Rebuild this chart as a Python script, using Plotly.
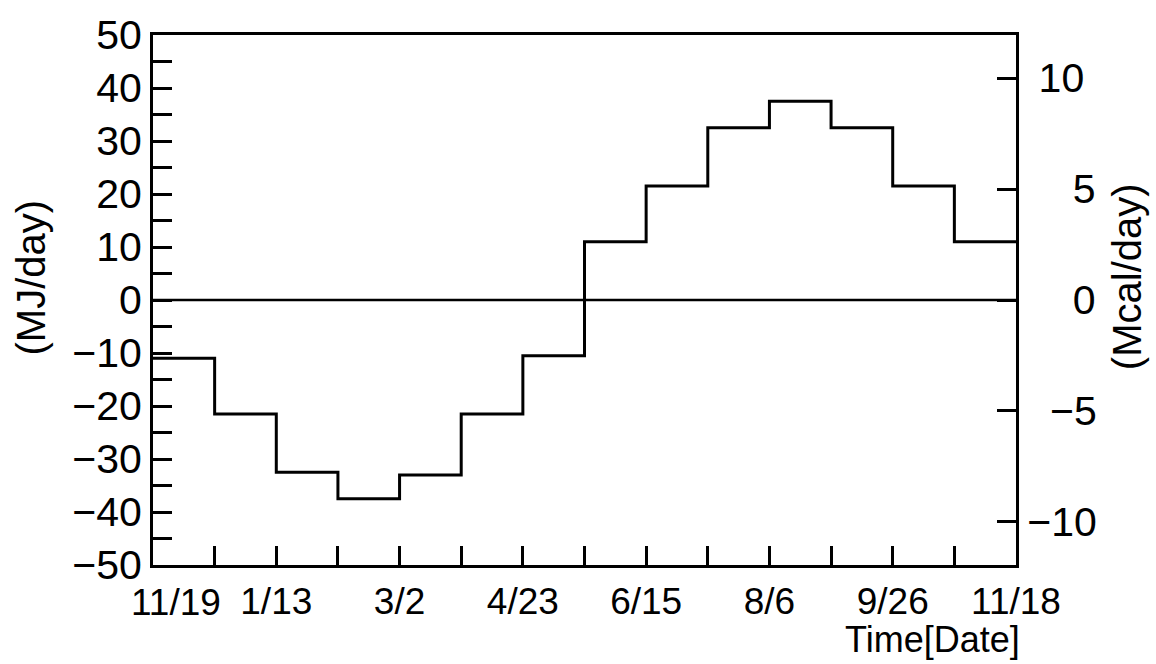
import plotly.graph_objects as go

# ---- data ----
boundaries = list(range(15))  # 14 equal periods of the year
date_labels = ["11/19", "", "1/13", "", "3/2", "", "4/23", "", "6/15", "", "8/6", "", "9/26", "", "11/18"]
heat_mj = [-11, -21.5, -32.5, -37.5, -33, -21.5, -10.5, 11, 21.5, 32.5, 37.5, 32.5, 21.5, 11]
mj_ticks = list(range(-50, 51, 5))
mj_ticktext = [str(v).replace("-", "\u2212") if v % 10 == 0 else "" for v in mj_ticks]
mcal_ticks = [-10, -5, 0, 5, 10]
mcal_ticktext = ["\u221210", "\u00a0\u00a0\u22125", "\u00a0\u00a0\u00a0\u00a00", "\u00a0\u00a0\u00a0\u00a05", "\u00a010"]
MJ_PER_MCAL = 4.1868

FONT = "Liberation Sans, Arial, sans-serif"
# first date label is drawn as an annotation (shifted right of its tick, as in the original)
xticktext = ["" if i == 0 else t for i, t in enumerate(date_labels)]

fig = go.Figure()
fig.add_trace(go.Scatter(
    x=boundaries, y=heat_mj + [heat_mj[-1]], mode="lines", line_shape="hv",
    line=dict(color="black", width=3), showlegend=False, hoverinfo="skip"))
fig.add_trace(go.Scatter(
    x=[boundaries[0], boundaries[-1]], y=[0, 0], mode="lines", yaxis="y2",
    line=dict(color="black", width=2.5), showlegend=False, hoverinfo="skip"))

fig.update_layout(
    width=1156, height=664,
    margin=dict(l=153, r=140, t=23, b=99),
    paper_bgcolor="white", plot_bgcolor="white",
    font=dict(family=FONT, color="black"),
    xaxis=dict(range=[0, 14], tickvals=boundaries, ticktext=xticktext,
               ticks="inside", ticklen=19, tickwidth=2.5, tickcolor="black",
               showline=True, linecolor="black", linewidth=3, mirror=True,
               showgrid=False, zeroline=False, tickfont=dict(size=37, family=FONT),
               tickangle=0, ticklabelstandoff=2),
    yaxis=dict(range=[-50, 50], tickvals=mj_ticks, ticktext=mj_ticktext,
               ticks="inside", ticklen=19, tickwidth=2.5, tickcolor="black",
               showline=True, linecolor="black", linewidth=3, mirror=False,
               showgrid=False, zeroline=False, tickfont=dict(size=41, family=FONT)),
    yaxis2=dict(range=[-50 / MJ_PER_MCAL, 50 / MJ_PER_MCAL], overlaying="y", side="right",
                tickvals=mcal_ticks, ticktext=mcal_ticktext,
                ticks="inside", ticklen=19, tickwidth=2.5, tickcolor="black",
                showline=True, linecolor="black", linewidth=3,
                showgrid=False, zeroline=False, tickfont=dict(size=41, family=FONT)),
    annotations=[
        dict(text=date_labels[0], xref="x", yref="paper", x=boundaries[0], y=0,
             xanchor="left", yanchor="top", xshift=-24, yshift=-15, showarrow=False,
             font=dict(size=37, family=FONT)),
        dict(text="(MJ/day)", xref="paper", yref="paper", x=-0.1414, y=0.5424,
             xanchor="center", yanchor="middle", textangle=-90, showarrow=False,
             font=dict(size=40, family=FONT)),
        dict(text="(Mcal/day)", xref="paper", yref="paper", x=1.1286, y=0.545,
             xanchor="center", yanchor="middle", textangle=-90, showarrow=False,
             font=dict(size=40, family=FONT)),
        dict(text="Time[Date]", xref="paper", yref="paper", x=0.9027, y=-0.14,
             xanchor="center", yanchor="middle", showarrow=False,
             font=dict(size=36, family=FONT)),
    ],
)

fig.write_html("out.html")
